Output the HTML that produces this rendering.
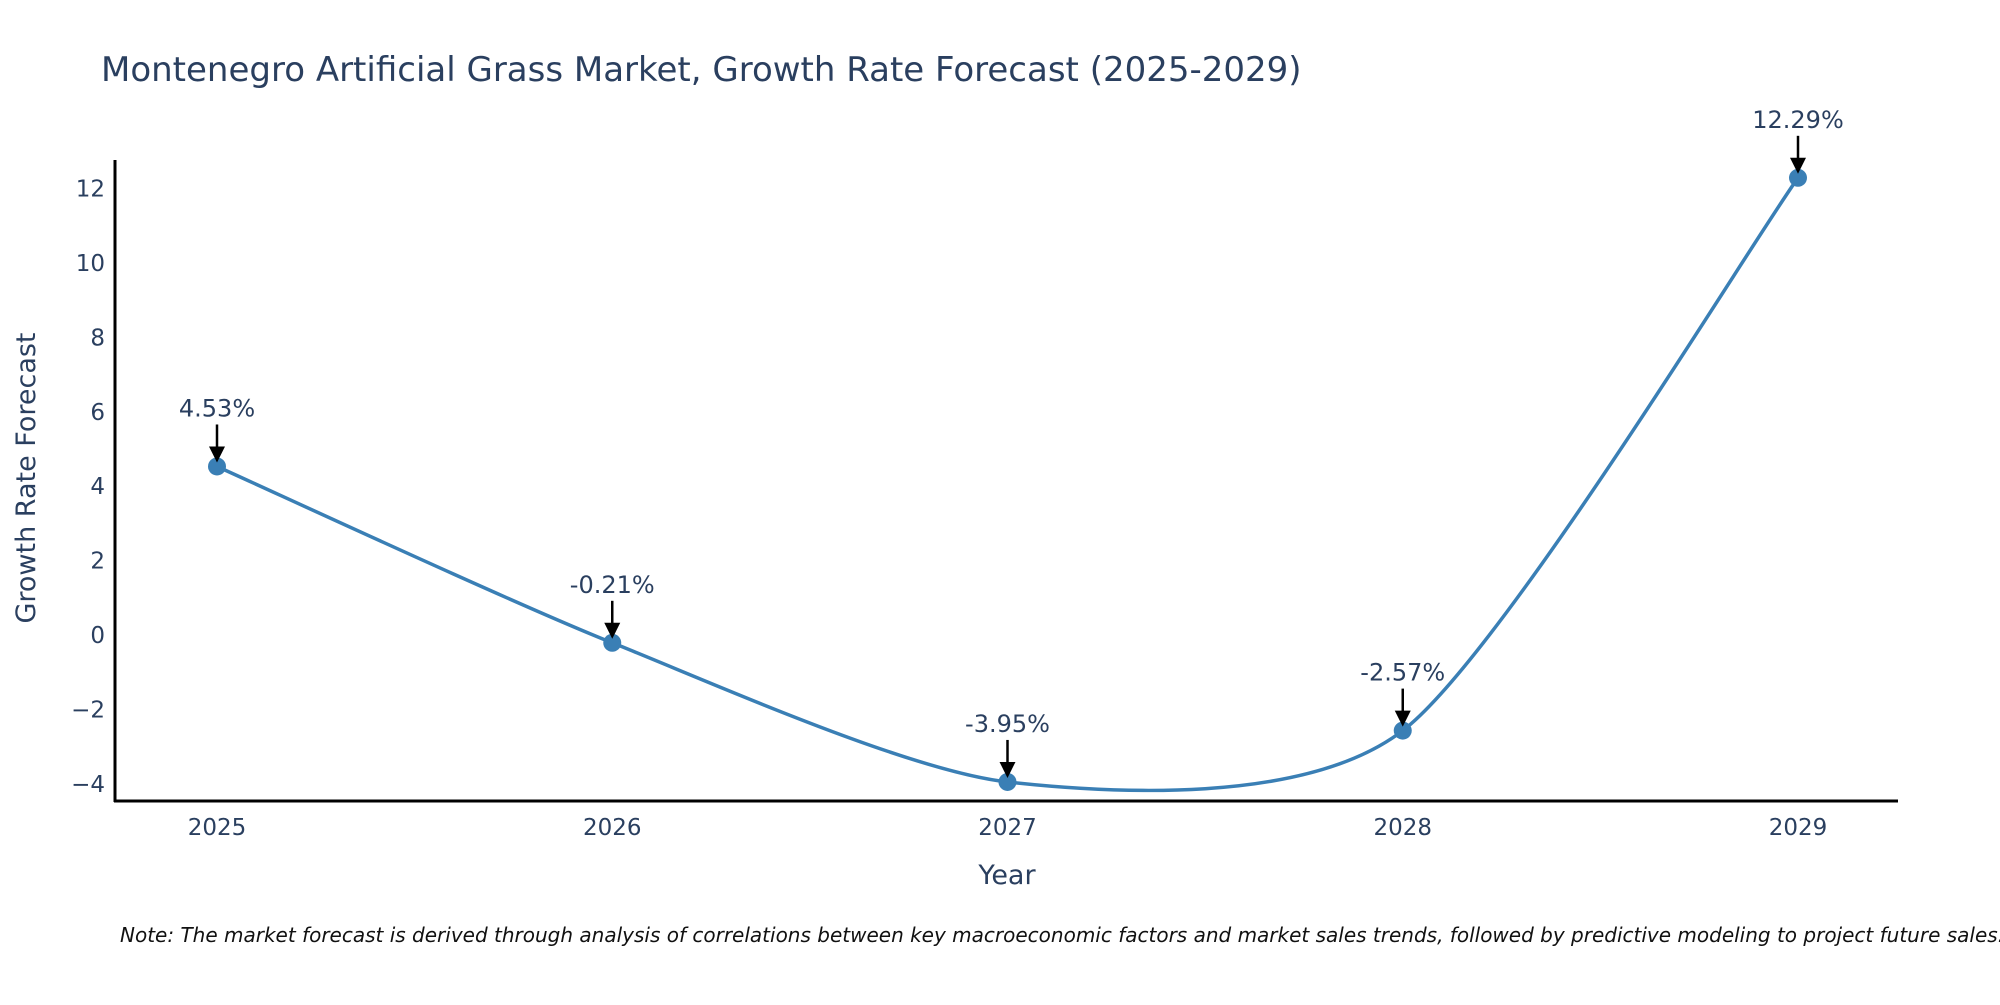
<!DOCTYPE html>
<html><head><meta charset="utf-8"><style>
html,body{margin:0;padding:0;background:#fff;overflow:hidden;}
svg text{font-family:"DejaVu Sans","Liberation Sans",sans-serif;fill:#2a3f5f;}
</style></head><body>
<svg id="chart" width="2000" height="1000" viewBox="0 0 2000 1000" xmlns="http://www.w3.org/2000/svg">
<text x="101" y="81" font-size="34">Montenegro Artificial Grass Market, Growth Rate Forecast (2025-2029)</text>
<g id="yticks"></g>
<g id="xticks"></g>
<line x1="115" y1="160" x2="115" y2="802" stroke="#000" stroke-width="3"/>
<line x1="114" y1="801" x2="1898" y2="801" stroke="#000" stroke-width="3"/>
<text x="1007" y="884" font-size="27" text-anchor="middle">Year</text>
<text transform="translate(35,478) rotate(-90)" font-size="27" text-anchor="middle">Growth Rate Forecast</text>
<g id="series"></g>
<g id="annots"></g>
<text x="120" y="942" font-size="20" font-style="italic" style="fill:#111">Note: The market forecast is derived through analysis of correlations between key macroeconomic factors and market sales trends, followed by predictive modeling to project future sales.</text>
</svg>
<script>
const years = [2025, 2026, 2027, 2028, 2029];
const values = [4.53, -0.21, -3.95, -2.57, 12.29];
const labels = ["4.53%", "-0.21%", "-3.95%", "-2.57%", "12.29%"];
const yTickValues = [-4, -2, 0, 2, 4, 6, 8, 10, 12];
const yTickLabels = ["\u22124", "\u22122", "0", "2", "4", "6", "8", "10", "12"];

const NS = "http://www.w3.org/2000/svg";
function xS(v){ return 217 + (v - 2025) * (1798 - 217) / 4; }
function yS(v){ return 635 - v * 37.2; }
function mk(tag, attrs, parent){ const e=document.createElementNS(NS,tag); for(const k in attrs) e.setAttribute(k,attrs[k]); parent.appendChild(e); return e; }

const yt=document.getElementById('yticks');
yTickValues.forEach((v,i)=>{
  const t=mk('text',{x:105,y:yS(v)+8,'font-size':23,'text-anchor':'end'},yt);
  
  
  t.textContent=yTickLabels[i];
});
const xt=document.getElementById('xticks');
years.forEach(v=>{
  const t=mk('text',{x:xS(v),y:835,'font-size':23,'text-anchor':'middle'},xt);
  
  
  t.textContent=String(v);
});

const pts=years.map((y,i)=>[xS(y),yS(values[i])]);
let d='M'+pts[0][0]+','+pts[0][1];
for(let i=0;i<pts.length-1;i++){
  const p0=pts[Math.max(0,i-1)],p1=pts[i],p2=pts[i+1],p3=pts[Math.min(pts.length-1,i+2)];
  const k=1/8;
  const c1=[p1[0]+(p2[0]-p0[0])*k,p1[1]+(p2[1]-p0[1])*k];
  const c2=[p2[0]-(p3[0]-p1[0])*k,p2[1]-(p3[1]-p1[1])*k];
  d+=' C'+c1[0]+','+c1[1]+' '+c2[0]+','+c2[1]+' '+p2[0]+','+p2[1];
}
const s=document.getElementById('series');
const line=mk('path',{d:d,fill:'none',stroke:'#3a7fb5','stroke-width':3.5},s);


pts.forEach(p=>{
  const c=mk('circle',{cx:p[0],cy:p[1],r:9,fill:'#3a7fb5'},s);
  
  
});
const an=document.getElementById('annots');
pts.forEach((p,i)=>{
  const g=mk('g',{},an);
  
  
  mk('line',{x1:p[0],y1:p[1]-42,x2:p[0],y2:p[1]-18,stroke:'#000','stroke-width':2.5},g);
  mk('path',{d:`M${p[0]-8},${p[1]-20} L${p[0]+8},${p[1]-20} L${p[0]},${p[1]-4} Z`,fill:'#000'},g);
  const t=mk('text',{x:p[0],y:p[1]-50,'font-size':24,'text-anchor':'middle'},g);
  t.textContent=labels[i];
});
</script>
</body></html>
